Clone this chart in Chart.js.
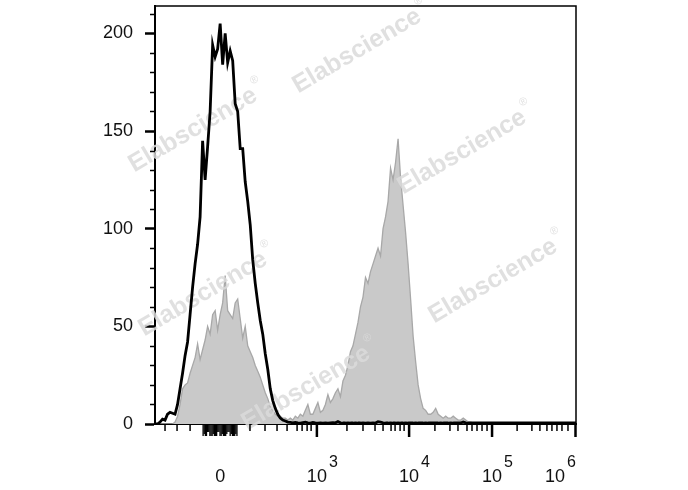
<!DOCTYPE html>
<html>
<head>
<meta charset="utf-8">
<script src="https://cdn.jsdelivr.net/npm/chart.js@4/dist/chart.umd.min.js"></script>
<style>
  html, body { margin: 0; padding: 0; background: #fff; }
  #wrap { width: 688px; height: 490px; }
</style>
</head>
<body>
<div id="wrap"><canvas id="histChart" width="688" height="490"></canvas></div>
<script>
// Flow histogram: unstained (black outline) vs stained (grey filled)
// x is the display channel of the biexponential axis, one bin per channel

// counts for the black (control) histogram, channel 0..168
const controlCounts = [
    0, 0, 1, 2.5, 2, 5, 6, 5.5, 5, 10,
    18, 26, 35, 42, 56, 70, 82, 92, 106, 145,
    125, 142, 160, 194, 188, 192, 205, 184, 200, 185,
    191, 186, 164, 160, 141, 141, 124, 114, 102, 84,
    72, 62, 53, 46, 36, 28, 18, 12, 8, 5,
    3, 2, 1.5, 1, 0.8, 0.6, 0.8, 0.6, 0.5, 0.7,
    0.9, 0.6, 0.5, 0.8, 0.6, 0.5, 0.6, 0.5, 0.6, 0.5,
    0.6, 0.7, 0.6, 1.2, 0.6, 0.5, 0.5, 0.6, 0.5, 0.5,
    0.6, 0.5, 0.5, 0.6, 0.5, 0.6, 0.5, 0.6, 0.5, 1.2,
    1.0, 0.6, 0.5, 0.5, 0.6, 0.5, 0.5, 0.6, 0.5, 0.5,
    0.6, 0.5, 0.5, 0.5, 0.6, 0.5, 0.5, 0.5, 0.6, 0.5,
    0.5, 0.5, 0.5, 0.5, 0.6, 0.5, 0.5, 0.5, 0.6, 0.5,
    0.5, 0.5, 0.5, 1.0, 0.6, 0.5, 0.5, 0.5, 0.5, 0.5,
    0.5, 0.5, 0.5, 0.5, 0.5, 0.5, 0.5, 0.5, 0.5, 0.5,
    0.5, 0.5, 0.5, 0.5, 0.5, 0.5, 0.5, 0.5, 0.5, 0.5,
    0.5, 0.5, 0.5, 0.5, 0.5, 0.5, 0.5, 0.5, 0.5, 0.5,
    0.5, 0.5, 0.5, 0.5, 0.5, 0.5, 0.5, 0.5, 0.5
];

// counts for the grey (stained) histogram, channel 0..128
const stainedCounts = [
    0, 0, 0, 0, 0, 0, 0, 0, 1, 4,
    10, 18, 20, 21, 26, 30, 34, 41, 33, 38,
    43, 50, 46, 56, 58, 48, 56, 62, 76, 58,
    56, 54, 62, 64, 54, 44, 50, 40, 37, 34,
    30, 27, 24, 20, 16, 13, 9, 7, 5, 4,
    4, 3, 3, 2, 3, 2, 4, 3, 5, 4,
    7, 10, 5, 5, 8, 11, 6, 7, 10, 15,
    11, 13, 16, 18, 14, 22, 25, 30, 37, 40,
    46, 52, 60, 65, 75, 72, 78, 82, 86, 90,
    86, 100, 106, 114, 131, 125, 134, 146, 126, 112,
    98, 82, 64, 45, 32, 20, 13, 8, 7, 5,
    5, 6, 8, 5, 4, 3, 4, 3, 3, 4,
    3, 2, 2, 3, 2, 1, 1, 0.5, 0
];

// axis labels and where they sit (in channels)
const xLabelChannels = [26, 64.6, 101.4, 134.5, 168];
const xLabelBase = ['0', '10', '10', '10', '10'];
const xLabelExp = ['', '3', '4', '5', '6'];
const xMajorTicks = [64.6, 101.4, 134.5, 168];
const xMinorTicks = [
    4.0, 8.8, 14.0,
    37.9, 43.9, 48.7, 52.7, 56.7, 58.7, 60.7, 62.3,
    76.6, 83.0, 87.8, 91.0, 94.2, 95.8, 97.8, 99.4,
    111.7, 117.7, 120.9, 124.5, 126.5, 128.5, 130.5, 132.5,
    144.5, 150.4, 153.6, 156.4, 158.4, 160.4, 162.4, 164.8
];
const xZeroCluster = [19.2, 33.1];   // dense ticks round zero
const yTickValues = [0, 50, 100, 150, 200];
const yMinorStep = 10;
const yMax = 214;

const watermarks = [
    [357, 51], [193, 130], [462, 152], [203, 294], [493, 281], [306, 388]
];

const FONT = "'Liberation Sans', Arial, Helvetica, sans-serif";

const toPoints = arr => arr.map((v, i) => ({ x: i, y: v }));

// draws the watermark between the grey fill and the black line
const watermarkPlugin = {
    id: 'watermark',
    afterDatasetDraw(chart, args) {
        if (args.index !== 1) return;
        const ctx = chart.ctx;
        ctx.save();
        watermarks.forEach(([cx, cy]) => {
            ctx.save();
            ctx.translate(cx, cy);
            ctx.rotate(-30.4 * Math.PI / 180);
            ctx.font = 'bold 25px ' + FONT;
            ctx.fillStyle = 'rgba(218,218,218,0.85)';
            ctx.textBaseline = 'middle';
            const w = ctx.measureText('Elabscience').width;
            ctx.fillText('Elabscience', -w / 2, 0);
            ctx.font = '11px ' + FONT;
            ctx.fillText('\u00AE', w / 2 + 2, -12);
            ctx.restore();
        });
        ctx.restore();
    }
};

// frame, minor ticks and the biexponential x labels
const axisPlugin = {
    id: 'axisDecor',
    afterDraw(chart) {
        const ctx = chart.ctx;
        const area = chart.chartArea;
        const xs = chart.scales.x;
        const ys = chart.scales.y;
        ctx.save();
        ctx.strokeStyle = '#000';

        // top and right frame
        ctx.lineWidth = 1.5;
        ctx.beginPath();
        ctx.moveTo(area.left, area.top);
        ctx.lineTo(area.right, area.top);
        ctx.lineTo(area.right, area.bottom);
        ctx.stroke();

        // y minor ticks
        ctx.lineWidth = 1.5;
        for (let v = 0; v <= yMax; v += yMinorStep) {
            if (yTickValues.includes(v)) continue;
            const py = Math.round(ys.getPixelForValue(v)) + 0.5;
            ctx.beginPath();
            ctx.moveTo(area.left - 5, py);
            ctx.lineTo(area.left, py);
            ctx.stroke();
        }

        const base = area.bottom;
        // x minor ticks
        ctx.lineWidth = 1.5;
        xMinorTicks.forEach(u => {
            const px = xs.getPixelForValue(u);
            ctx.beginPath();
            ctx.moveTo(px, base);
            ctx.lineTo(px, base + 7);
            ctx.stroke();
        });
        // x major ticks
        ctx.lineWidth = 2.5;
        xMajorTicks.forEach(u => {
            const px = Math.min(xs.getPixelForValue(u), area.right - 0.5);
            ctx.beginPath();
            ctx.moveTo(px, base);
            ctx.lineTo(px, base + 13);
            ctx.stroke();
        });
        // dense block of ticks round zero
        ctx.lineWidth = 1.3;
        let k = 0;
        for (let u = xZeroCluster[0]; u <= xZeroCluster[1]; u += 0.45, k++) {
            const px = xs.getPixelForValue(u);
            const len = (k % 9 === 4 || k % 9 === 5) ? 8 : (k % 4 === 1 ? 10 : 12);
            ctx.beginPath();
            ctx.moveTo(px, base);
            ctx.lineTo(px, base + len);
            ctx.stroke();
        }

        // x labels with superscript exponents
        ctx.fillStyle = '#111';
        ctx.textBaseline = 'alphabetic';
        ctx.textAlign = 'left';
        xLabelChannels.forEach((u, i) => {
            const px = xs.getPixelForValue(u);
            ctx.font = '18px ' + FONT;
            const wb = ctx.measureText(xLabelBase[i]).width;
            ctx.font = '16px ' + FONT;
            const we = xLabelExp[i] ? ctx.measureText(xLabelExp[i]).width + 2 : 0;
            let x0 = px - wb / 2;
            if (x0 + wb + we > area.right) x0 = area.right - wb - we;
            ctx.font = '18px ' + FONT;
            ctx.fillText(xLabelBase[i], x0, 482);
            if (xLabelExp[i]) {
                ctx.font = '16px ' + FONT;
                ctx.fillText(xLabelExp[i], x0 + wb + 2, 467);
            }
        });
        ctx.restore();
    }
};

const ctx = document.getElementById('histChart');
const histChart = new Chart(ctx, {
    type: 'line',
    data: {
        datasets: [
            {
                label: 'Control',
                data: toPoints(controlCounts),
                borderColor: '#000',
                borderWidth: 2.8,
                fill: false,
                pointRadius: 0,
                tension: 0
            },
            {
                label: 'Stained',
                data: toPoints(stainedCounts),
                borderColor: '#a8a8a8',
                borderWidth: 1.3,
                backgroundColor: '#c9c9c9',
                fill: 'origin',
                pointRadius: 0,
                tension: 0
            }
        ]
    },
    options: {
        responsive: false,
        animation: false,
        devicePixelRatio: 1,
        layout: {
            padding: { top: 6, right: 112, left: 0, bottom: 0 }
        },
        plugins: {
            legend: { display: false },
            tooltip: { enabled: false }
        },
        scales: {
            x: {
                type: 'linear',
                min: 0,
                max: 168,
                ticks: { display: false },
                grid: { display: false },
                border: { display: true, color: '#000', width: 2 },
                afterFit: scale => {
                    scale.height = 66;
                    scale.paddingLeft = 0;
                    scale.paddingRight = 0;
                }
            },
            y: {
                type: 'linear',
                min: 0,
                max: yMax,
                afterBuildTicks: scale => {
                    scale.ticks = yTickValues.map(v => ({ value: v }));
                },
                ticks: {
                    color: '#111',
                    padding: 12,
                    font: { size: 18, family: FONT }
                },
                grid: {
                    drawOnChartArea: false,
                    drawTicks: true,
                    tickLength: 10,
                    tickWidth: 2.5,
                    tickColor: '#000'
                },
                border: { display: true, color: '#000', width: 2 },
                afterFit: scale => {
                    scale.width = 155;
                    scale.paddingTop = 0;
                    scale.paddingBottom = 0;
                }
            }
        }
    },
    plugins: [watermarkPlugin, axisPlugin]
});
</script>
</body>
</html>
